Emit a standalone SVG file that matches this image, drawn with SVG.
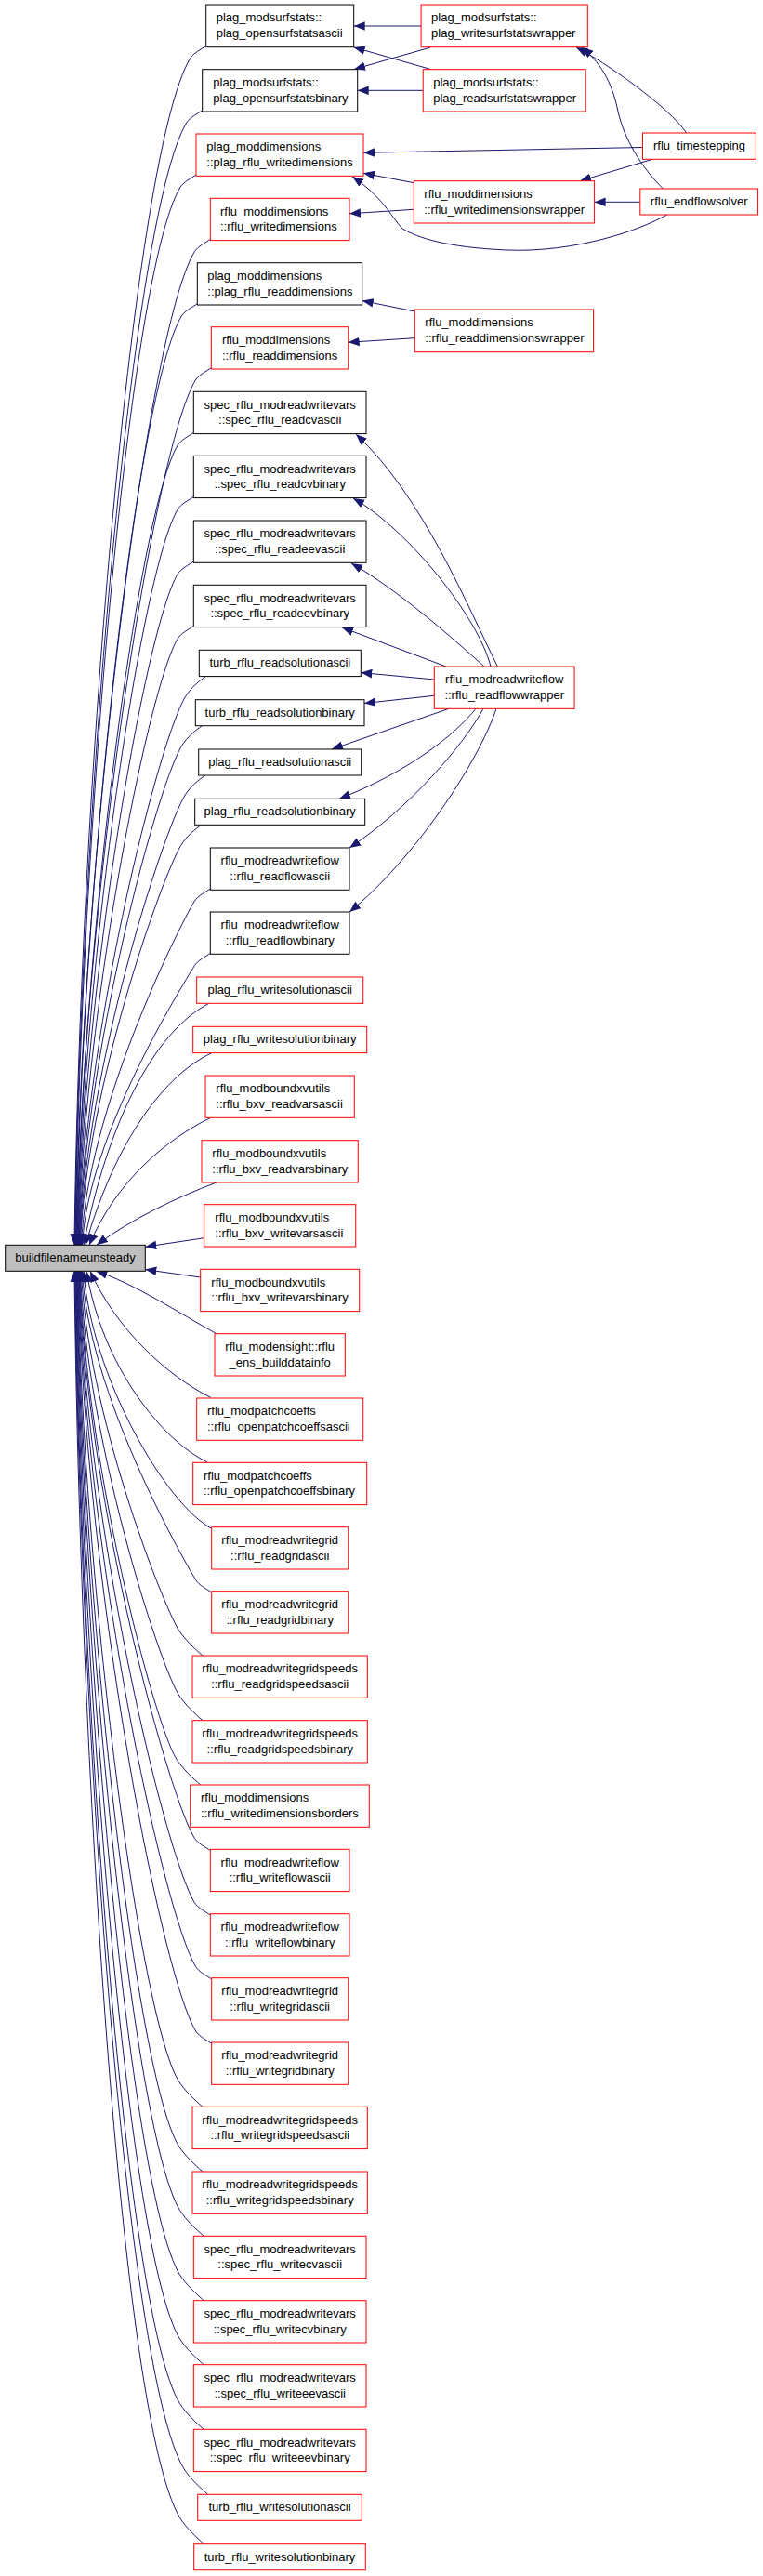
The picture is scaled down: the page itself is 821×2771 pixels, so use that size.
<svg xmlns="http://www.w3.org/2000/svg" width="821" height="2771" viewBox="0 0 821 2771">
<style>
.n rect{fill:#ffffff;stroke-width:1}
.b rect{stroke:#000000}
.r rect{stroke:#ff0000}
.m rect{fill:#bfbfbf;stroke:#000000}
text{font-family:"Liberation Sans",Arial,Helvetica,sans-serif;font-size:13px;fill:#000000}
.c{text-anchor:middle}
#edges path{fill:none;stroke:#191970;stroke-width:1;marker-end:url(#ah)}
</style>
<defs>
<marker id="ah" viewBox="0 0 12 10" refX="12" refY="5" markerWidth="12" markerHeight="10" markerUnits="userSpaceOnUse" orient="auto">
<path d="M0,0.2 L12,5 L0,9.8 z" fill="#191970"/>
</marker>
</defs>
<rect x="0" y="0" width="821" height="2771" fill="#ffffff"/>
<g id="edges">
<path d="M453.1,28 L380.7,28"/>
<path d="M463.3,51 L381,74.5"/>
<path d="M463.3,74.5 L380.7,50.9"/>
<path d="M455.2,97.3 L384.7,97.3"/>
<path d="M738.6,143 C720,115 650,66 620,51"/>
<path d="M713.5,203 C690,180 672,150 665,120 C660,95 650,70 626,51"/>
<path d="M691.5,158.5 L391,164.3"/>
<path d="M702,171.3 L624,194.7"/>
<path d="M445.3,196.7 L391,186.3"/>
<path d="M445.3,225.3 L376,229.8"/>
<path d="M688.8,217.3 L639.6,217.3"/>
<path d="M717.7,231 C690,247 620,272 545,269 C480,266 450,256 433,246 C420,232 412,212 379,190"/>
<path d="M446.3,335 L389.7,323.5"/>
<path d="M446.3,363.7 L374.7,368.3"/>
<path d="M535.4,717 C504,654.7 456,535 383,467"/>
<path d="M528,717 C515,665 440,570 380,536"/>
<path d="M521,717 C491,690 428,634 378,606"/>
<path d="M480,717 L368,675"/>
<path d="M467.3,731 L388.3,723.5"/>
<path d="M467.3,748.3 L392,756.5"/>
<path d="M483,762.3 L357,806"/>
<path d="M512,762.3 C490,790 440,830 365,859.3"/>
<path d="M520,762.3 C500,800 440,870 376,912"/>
<path d="M534,762.3 C515,820 445,925 376,981"/>
<path d="M222.7,48.7 C215.7,53.7 208.7,56.7 204.7,62.7 C143.4,164.8 86,841.4 80,1339.3"/>
<path d="M218.7,118 C211.7,123 204.7,126 200.7,132 C142.7,228.6 86.5,868.5 80.5,1339.3"/>
<path d="M212,187.3 C205,192.3 198,195.3 194,201.3 C139.4,292.3 87,895.5 81,1339.3"/>
<path d="M227.3,256.7 C220.3,261.7 213.3,264.7 209.3,270.7 C158,356.2 87.5,922.5 81.5,1339.3"/>
<path d="M213.3,326 C206.3,331 199.3,334 195.3,340 C147.4,419.9 88,949.6 82,1339.3"/>
<path d="M228.3,395 C221.3,400 214.3,403 210.3,409 C165.7,483.4 88.5,976.5 82.5,1339.3"/>
<path d="M209.3,464.7 C202.3,469.7 195.3,472.7 191.3,478.7 C150,547.5 89,1003.7 83,1339.3"/>
<path d="M209.3,533.7 C202.3,538.7 195.3,541.7 191.3,547.7 C153.3,611 89.5,1030.6 83.5,1339.3"/>
<path d="M209.3,603.3 C202.3,608.3 195.3,611.3 191.3,617.3 C156.6,675.1 90,1057.7 84,1339.3"/>
<path d="M209.3,672.7 C202.3,677.7 195.3,680.7 191.3,686.7 C160,738.9 90.5,1084.8 84.5,1339.3"/>
<path d="M221.3,727.7 C214.3,732.7 205.3,739.7 199.3,749.7 C171,796.9 91,1109.4 85,1339.3"/>
<path d="M217.3,780.7 C210.3,785.7 201.3,792.7 195.3,802.7 C169.6,845.6 91.5,1130 85.5,1339.3"/>
<path d="M220.7,834 C213.7,839 204.7,846 198.7,856 C175.5,894.7 92,1150.8 86,1339.3"/>
<path d="M216.7,887.3 C209.7,892.3 200.7,899.3 194.7,909.3 C174.1,943.7 92.5,1171.6 86.5,1339.3"/>
<path d="M227.3,955.3 C220.3,960.3 213.3,963.3 209.3,969.3 C191.5,998.9 93.5,1195 87.5,1339.3"/>
<path d="M227.3,1024.7 C220.3,1029.7 213.3,1032.7 209.3,1038.7 C194.9,1062.7 94.5,1222.1 88.5,1339.3"/>
<path d="M225,1079.3 C165,1110 115,1210 90,1339.3"/>
<path d="M227.7,1132.7 C170,1160 120,1240 92,1339.3"/>
<path d="M226.7,1202.3 C180,1225 125,1270 96,1339.3"/>
<path d="M233,1272 C190,1288 140,1312 104,1339.3"/>
<path d="M219.7,1331.7 L156.3,1341.2"/>
<path d="M215.7,1374 L156.3,1365.6"/>
<path d="M233,1434.7 C193,1412.7 143.3,1380 103.3,1367.3"/>
<path d="M226.7,1503.3 C180,1480 125,1430 97,1367.3"/>
<path d="M223.3,1573 C175,1550 110,1470 93,1367.3"/>
<path d="M228.7,1644.7 C178.7,1619.7 98,1480 90,1367.3"/>
<path d="M228.7,1713.7 C221.7,1708.7 214.7,1705.7 210.7,1699.7 C194.7,1673.1 94.5,1496.9 88.5,1367.3"/>
<path d="M218,1781 C210,1774 199,1764 192,1753 C173.5,1722.1 93.5,1517.7 87.5,1367.3"/>
<path d="M218,1850.7 C210,1843.7 199,1833.7 192,1822.7 C170.1,1786.3 92.5,1544.9 86.5,1367.3"/>
<path d="M215.7,1920 C207.7,1913 196.7,1903 189.7,1892 C164.5,1850 92,1571.9 86,1367.3"/>
<path d="M227.3,1991.3 C220.3,1986.3 213.3,1983.3 209.3,1977.3 C180,1928.5 91.5,1605.2 85.5,1367.3"/>
<path d="M227.3,2060.7 C220.3,2055.7 213.3,2052.7 209.3,2046.7 C176.7,1992.3 91,1632.3 85,1367.3"/>
<path d="M228.7,2129.7 C221.7,2124.7 214.7,2121.7 210.7,2115.7 C174.8,2055.8 90.5,1659.2 84.5,1367.3"/>
<path d="M228.7,2199 C221.7,2194 214.7,2191 210.7,2185 C171.5,2119.6 90,1686.2 84,1367.3"/>
<path d="M218,2266.3 C210,2259.3 199,2249.3 192,2238.3 C150.2,2168.6 89.5,1707 83.5,1367.3"/>
<path d="M218,2336 C210,2329 199,2319 192,2308 C146.8,2232.7 89,1734.2 83,1367.3"/>
<path d="M219.3,2405.3 C211.3,2398.3 200.3,2388.3 193.3,2377.3 C144.8,2296.5 88.5,1761.2 82.5,1367.3"/>
<path d="M219.3,2474.7 C211.3,2467.7 200.3,2457.7 193.3,2446.7 C141.5,2360.3 88,1788.3 82,1367.3"/>
<path d="M219.3,2543.7 C211.3,2536.7 200.3,2526.7 193.3,2515.7 C138.2,2423.8 87.5,1815.2 81.5,1367.3"/>
<path d="M219.3,2613.3 C211.3,2606.3 200.3,2596.3 193.3,2585.3 C134.9,2487.9 87,1842.3 81,1367.3"/>
<path d="M223.7,2683.3 C215.7,2676.3 204.7,2666.3 197.7,2655.3 C135.9,2552.3 86.5,1869.6 80.5,1367.3"/>
<path d="M219.7,2736.7 C211.7,2729.7 200.7,2719.7 193.7,2708.7 C129.3,2601.4 86,1890.4 80,1367.3"/>
</g>
<g id="main" class="n m"><rect x="5.7" y="1339.3" width="150.6" height="28"/><text class="c" x="81" y="1357.3">buildfilenameunsteady</text></g>
<g id="n1" class="n b"><rect x="221.7" y="5" width="159" height="45.7"/><text x="232.7" y="23.2">plag_modsurfstats::</text><text x="232.7" y="39.9">plag_opensurfstatsascii</text></g>
<g id="n2" class="n r"><rect x="453.1" y="5" width="179.2" height="45.7"/><text x="464.1" y="23.2">plag_modsurfstats::</text><text x="464.1" y="39.9">plag_writesurfstatswrapper</text></g>
<g id="n3" class="n b"><rect x="217.7" y="74.7" width="167" height="45.3"/><text x="229.3" y="92.9">plag_modsurfstats::</text><text x="229.3" y="109.6">plag_opensurfstatsbinary</text></g>
<g id="n4" class="n r"><rect x="455.2" y="74.7" width="175" height="45.3"/><text x="466.2" y="92.9">plag_modsurfstats::</text><text x="466.2" y="109.6">plag_readsurfstatswrapper</text></g>
<g id="n5" class="n r"><rect x="211" y="144" width="180" height="45.3"/><text x="222.3" y="162.2">plag_moddimensions</text><text x="222.3" y="178.9">::plag_rflu_writedimensions</text></g>
<g id="n6" class="n r"><rect x="691.5" y="143" width="122" height="28.3"/><text class="c" x="752.5" y="161">rflu_timestepping</text></g>
<g id="n7" class="n r"><rect x="445.3" y="194.7" width="194.3" height="45.3"/><text x="456.3" y="212.9">rflu_moddimensions</text><text x="456.3" y="229.6">::rflu_writedimensionswrapper</text></g>
<g id="n8" class="n r"><rect x="688.8" y="203" width="126.8" height="28"/><text class="c" x="752.2" y="221">rflu_endflowsolver</text></g>
<g id="n9" class="n r"><rect x="226.3" y="213.3" width="149.7" height="45.3"/><text x="237" y="231.5">rflu_moddimensions</text><text x="237" y="248.2">::rflu_writedimensions</text></g>
<g id="n10" class="n b"><rect x="212.3" y="282.7" width="177.4" height="45.3"/><text x="223.3" y="300.9">plag_moddimensions</text><text x="223.3" y="317.6">::plag_rflu_readdimensions</text></g>
<g id="n11" class="n r"><rect x="446.3" y="333" width="192.3" height="45.7"/><text x="457.3" y="351.2">rflu_moddimensions</text><text x="457.3" y="367.9">::rflu_readdimensionswrapper</text></g>
<g id="n12" class="n r"><rect x="227.3" y="351.7" width="147.4" height="45.3"/><text x="239" y="369.9">rflu_moddimensions</text><text x="239" y="386.6">::rflu_readdimensions</text></g>
<g id="n13" class="n b"><rect x="208.3" y="421.3" width="185.7" height="45.3"/><text class="c" x="301.2" y="439.5">spec_rflu_modreadwritevars</text><text class="c" x="301.2" y="456.2">::spec_rflu_readcvascii</text></g>
<g id="n14" class="n b"><rect x="208.3" y="490.3" width="185.7" height="45.3"/><text class="c" x="301.2" y="508.5">spec_rflu_modreadwritevars</text><text class="c" x="301.2" y="525.2">::spec_rflu_readcvbinary</text></g>
<g id="n15" class="n b"><rect x="208.3" y="560" width="185.7" height="45.3"/><text class="c" x="301.2" y="578.2">spec_rflu_modreadwritevars</text><text class="c" x="301.2" y="594.9">::spec_rflu_readeevascii</text></g>
<g id="n16" class="n b"><rect x="208.3" y="629.3" width="185.7" height="45.3"/><text class="c" x="301.2" y="647.5">spec_rflu_modreadwritevars</text><text class="c" x="301.2" y="664.2">::spec_rflu_readeevbinary</text></g>
<g id="n17" class="n b"><rect x="214.3" y="699.3" width="174" height="28.3"/><text class="c" x="301.3" y="717.3">turb_rflu_readsolutionascii</text></g>
<g id="n18" class="n b"><rect x="210.3" y="752.7" width="181.7" height="28"/><text class="c" x="301.2" y="770.7">turb_rflu_readsolutionbinary</text></g>
<g id="n19" class="n b"><rect x="213.7" y="806" width="175" height="28"/><text class="c" x="301.2" y="824">plag_rflu_readsolutionascii</text></g>
<g id="n20" class="n b"><rect x="209.7" y="859.3" width="183" height="28"/><text class="c" x="301.2" y="877.3">plag_rflu_readsolutionbinary</text></g>
<g id="n21" class="n r"><rect x="467.3" y="717" width="150.8" height="45.3"/><text class="c" x="542.7" y="735.2">rflu_modreadwriteflow</text><text class="c" x="542.7" y="751.9">::rflu_readflowwrapper</text></g>
<g id="n22" class="n b"><rect x="226.3" y="912" width="149.7" height="45.3"/><text class="c" x="301.2" y="930.2">rflu_modreadwriteflow</text><text class="c" x="301.2" y="946.9">::rflu_readflowascii</text></g>
<g id="n23" class="n b"><rect x="226.3" y="981" width="149.7" height="45.3"/><text class="c" x="301.2" y="999.2">rflu_modreadwriteflow</text><text class="c" x="301.2" y="1015.9">::rflu_readflowbinary</text></g>
<g id="n24" class="n r"><rect x="211.7" y="1051" width="179" height="28.3"/><text class="c" x="301.2" y="1069">plag_rflu_writesolutionascii</text></g>
<g id="n25" class="n r"><rect x="207.7" y="1104.3" width="187" height="28.3"/><text class="c" x="301.2" y="1122.3">plag_rflu_writesolutionbinary</text></g>
<g id="n26" class="n r"><rect x="221" y="1157" width="160.3" height="45.3"/><text x="232.3" y="1175.2">rflu_modboundxvutils</text><text x="232.3" y="1191.9">::rflu_bxv_readvarsascii</text></g>
<g id="n27" class="n r"><rect x="217" y="1226.7" width="168.3" height="45.3"/><text x="228.3" y="1244.9">rflu_modboundxvutils</text><text x="228.3" y="1261.6">::rflu_bxv_readvarsbinary</text></g>
<g id="n28" class="n r"><rect x="219.7" y="1295.7" width="163" height="45.3"/><text x="231.3" y="1313.9">rflu_modboundxvutils</text><text x="231.3" y="1330.6">::rflu_bxv_writevarsascii</text></g>
<g id="n29" class="n r"><rect x="215.7" y="1365.3" width="171" height="45.3"/><text x="227.3" y="1383.5">rflu_modboundxvutils</text><text x="227.3" y="1400.2">::rflu_bxv_writevarsbinary</text></g>
<g id="n30" class="n r"><rect x="231" y="1434.7" width="140.3" height="45.3"/><text class="c" x="301.2" y="1452.9">rflu_modensight::rflu</text><text class="c" x="301.2" y="1469.6">_ens_builddatainfo</text></g>
<g id="n31" class="n r"><rect x="211.7" y="1504" width="179" height="45.3"/><text x="223" y="1522.2">rflu_modpatchcoeffs</text><text x="223" y="1538.9">::rflu_openpatchcoeffsascii</text></g>
<g id="n32" class="n r"><rect x="207.7" y="1573.3" width="187" height="45.3"/><text x="219" y="1591.5">rflu_modpatchcoeffs</text><text x="219" y="1608.2">::rflu_openpatchcoeffsbinary</text></g>
<g id="n33" class="n r"><rect x="227.7" y="1642.7" width="147" height="45.3"/><text class="c" x="301.2" y="1660.9">rflu_modreadwritegrid</text><text class="c" x="301.2" y="1677.6">::rflu_readgridascii</text></g>
<g id="n34" class="n r"><rect x="227.7" y="1711.7" width="147" height="45.3"/><text class="c" x="301.2" y="1729.9">rflu_modreadwritegrid</text><text class="c" x="301.2" y="1746.6">::rflu_readgridbinary</text></g>
<g id="n35" class="n r"><rect x="207" y="1781" width="188.3" height="45.3"/><text class="c" x="301.2" y="1799.2">rflu_modreadwritegridspeeds</text><text class="c" x="301.2" y="1815.9">::rflu_readgridspeedsascii</text></g>
<g id="n36" class="n r"><rect x="207" y="1850.7" width="188.3" height="45.3"/><text class="c" x="301.2" y="1868.9">rflu_modreadwritegridspeeds</text><text class="c" x="301.2" y="1885.6">::rflu_readgridspeedsbinary</text></g>
<g id="n37" class="n r"><rect x="204.7" y="1920" width="192.6" height="45.3"/><text x="216" y="1938.2">rflu_moddimensions</text><text x="216" y="1954.9">::rflu_writedimensionsborders</text></g>
<g id="n38" class="n r"><rect x="226.3" y="1989.3" width="149.7" height="45.3"/><text class="c" x="301.2" y="2007.5">rflu_modreadwriteflow</text><text class="c" x="301.2" y="2024.2">::rflu_writeflowascii</text></g>
<g id="n39" class="n r"><rect x="226.3" y="2058.7" width="149.7" height="45.3"/><text class="c" x="301.2" y="2076.9">rflu_modreadwriteflow</text><text class="c" x="301.2" y="2093.6">::rflu_writeflowbinary</text></g>
<g id="n40" class="n r"><rect x="227.7" y="2127.7" width="147" height="45.3"/><text class="c" x="301.2" y="2145.9">rflu_modreadwritegrid</text><text class="c" x="301.2" y="2162.6">::rflu_writegridascii</text></g>
<g id="n41" class="n r"><rect x="227.7" y="2197" width="147" height="45.3"/><text class="c" x="301.2" y="2215.2">rflu_modreadwritegrid</text><text class="c" x="301.2" y="2231.9">::rflu_writegridbinary</text></g>
<g id="n42" class="n r"><rect x="207" y="2266.3" width="188.3" height="45.3"/><text class="c" x="301.2" y="2284.5">rflu_modreadwritegridspeeds</text><text class="c" x="301.2" y="2301.2">::rflu_writegridspeedsascii</text></g>
<g id="n43" class="n r"><rect x="207" y="2336" width="188.3" height="45.3"/><text class="c" x="301.2" y="2354.2">rflu_modreadwritegridspeeds</text><text class="c" x="301.2" y="2370.9">::rflu_writegridspeedsbinary</text></g>
<g id="n44" class="n r"><rect x="208.3" y="2405.3" width="185.7" height="45.3"/><text class="c" x="301.2" y="2423.5">spec_rflu_modreadwritevars</text><text class="c" x="301.2" y="2440.2">::spec_rflu_writecvascii</text></g>
<g id="n45" class="n r"><rect x="208.3" y="2474.7" width="185.7" height="45.3"/><text class="c" x="301.2" y="2492.9">spec_rflu_modreadwritevars</text><text class="c" x="301.2" y="2509.6">::spec_rflu_writecvbinary</text></g>
<g id="n46" class="n r"><rect x="208.3" y="2543.7" width="185.7" height="45.3"/><text class="c" x="301.2" y="2561.9">spec_rflu_modreadwritevars</text><text class="c" x="301.2" y="2578.6">::spec_rflu_writeeevascii</text></g>
<g id="n47" class="n r"><rect x="208.3" y="2613.3" width="185.7" height="45.3"/><text class="c" x="301.2" y="2631.5">spec_rflu_modreadwritevars</text><text class="c" x="301.2" y="2648.2">::spec_rflu_writeeevbinary</text></g>
<g id="n48" class="n r"><rect x="212.7" y="2683.3" width="176.6" height="28"/><text class="c" x="301" y="2701.3">turb_rflu_writesolutionascii</text></g>
<g id="n49" class="n r"><rect x="208.7" y="2736.7" width="184.6" height="28"/><text class="c" x="301" y="2754.7">turb_rflu_writesolutionbinary</text></g>
</svg>
